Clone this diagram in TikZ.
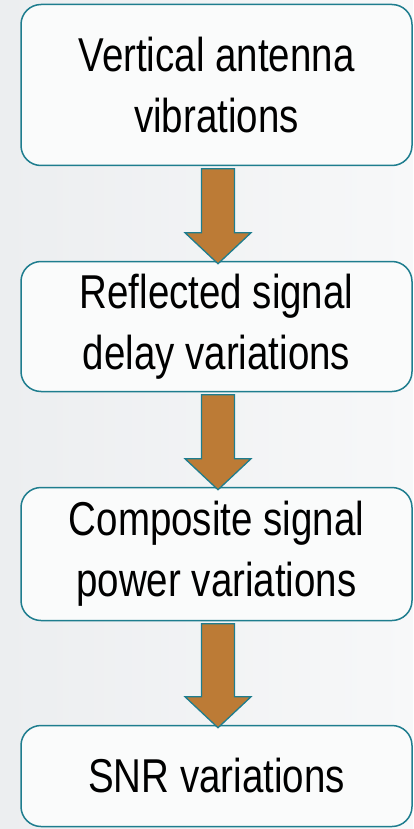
\documentclass[tikz,border=0pt]{standalone}
\usepackage{fontspec}
\setmainfont[FakeStretch=0.81]{Liberation Sans}
\usetikzlibrary{calc}
\definecolor{bgL}{HTML}{ECEEF0}
\definecolor{bgR}{HTML}{F7F8F9}
\definecolor{boxline}{HTML}{1E7D8E}
\definecolor{boxfill}{HTML}{FAFBFB}
\definecolor{arrfill}{HTML}{BC7B36}
\tikzset{
  stepbox/.style={draw=boxline, line width=1.5pt, fill=boxfill, rounded corners=20pt,
    minimum width=391pt, inner sep=0pt, align=center, text=black,
    font=\fontsize{47.5pt}{61pt}\selectfont},
  blockarrow/.style={draw=boxline, line width=1.3pt, fill=arrfill, line join=miter}
}
\newcommand{\blockarr}[2]{%
  \path let \p1=($(#1.south)+(1.5pt,-2.5pt)$), \p2=($(#2.north)+(1.5pt,-3pt)$) in
    [blockarrow] (\x1-16.5pt,\y1) -- (\x1+16.5pt,\y1) -- (\x1+16.5pt,\y2+31pt)
    -- (\x1+33pt,\y2+31pt) -- (\x1,\y2) -- (\x1-33pt,\y2+31pt)
    -- (\x1-16.5pt,\y2+31pt) -- cycle;}
\begin{document}
\begin{tikzpicture}[x=1pt,y=1pt]
\useasboundingbox (0,0) rectangle (413,-829);
\shade[left color=bgL, right color=bgR] (0,0) rectangle (413,-829);
\node[stepbox, minimum height=161pt] (b1) at (216.5,-85) {Vertical antenna\\vibrations};
\node[stepbox, minimum height=130pt] (b2) at (216.5,-326.5) {Reflected signal\\delay variations};
\node[stepbox, minimum height=133pt] (b3) at (216.5,-554) {Composite signal\\power variations};
\node[stepbox, minimum height=101pt] (b4) at (216.5,-776) {SNR variations};
\blockarr{b1}{b2}
\blockarr{b2}{b3}
\blockarr{b3}{b4}
\end{tikzpicture}
\end{document}
